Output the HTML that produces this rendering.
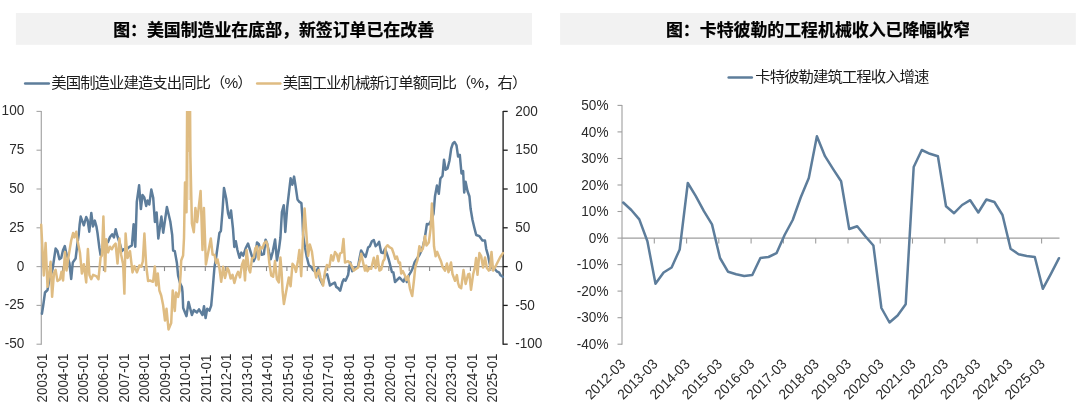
<!DOCTYPE html>
<html lang="zh"><head><meta charset="utf-8"><title>chart</title>
<style>
html,body{margin:0;padding:0;background:#fff;}
body{width:1080px;height:416px;overflow:hidden;position:relative;}
svg{position:absolute;left:0;top:0;display:block;}
.ttl{font-family:"Liberation Sans","Noto Sans CJK SC",sans-serif;font-weight:700;font-size:16.9px;fill:#000;stroke:#000;stroke-width:0.25px;}
.lg{font-family:"Liberation Sans","Noto Sans CJK SC",sans-serif;font-size:14.45px;fill:#1c1c1c;letter-spacing:-0.9px;}
.n,.n2{font-family:"Liberation Sans",sans-serif;font-size:13.6px;fill:#2b2b2b;}
.n2{font-size:13.3px;}
</style></head><body>
<svg width="1080" height="416" viewBox="0 0 1080 416">

<rect x="15.9" y="13" width="516.1" height="31.8" fill="#f2f2f2"/>
<rect x="560.1" y="13" width="515.7" height="31.8" fill="#f2f2f2"/>
<text class="ttl" x="273.6" y="35.5" text-anchor="middle">图：美国制造业在底部，新签订单已在改善</text>
<text class="ttl" x="818" y="35.5" text-anchor="middle">图：卡特彼勒的工程机械收入已降幅收窄</text>
<line x1="25.2" y1="83.5" x2="48.8" y2="83.5" stroke="#5d7d9b" stroke-width="2.6" stroke-linecap="round"/>
<text class="lg" transform="translate(51.3,88.1) scale(1.066,1)">美国制造业建造支出同比（%）</text>
<line x1="257.2" y1="83.5" x2="280.3" y2="83.5" stroke="#dfbc82" stroke-width="2.6" stroke-linecap="round"/>
<text class="lg" transform="translate(282.8,88.1) scale(1.066,1)">美国工业机械新订单额同比（%，右）</text>
<line x1="41.3" y1="266.6" x2="503.1" y2="266.6" stroke="#8a8a8a" stroke-width="1.1"/>
<line x1="62.6" y1="266.6" x2="62.6" y2="271.1" stroke="#8a8a8a" stroke-width="1.1"/>
<line x1="83.0" y1="266.6" x2="83.0" y2="271.1" stroke="#8a8a8a" stroke-width="1.1"/>
<line x1="103.4" y1="266.6" x2="103.4" y2="271.1" stroke="#8a8a8a" stroke-width="1.1"/>
<line x1="123.8" y1="266.6" x2="123.8" y2="271.1" stroke="#8a8a8a" stroke-width="1.1"/>
<line x1="144.2" y1="266.6" x2="144.2" y2="271.1" stroke="#8a8a8a" stroke-width="1.1"/>
<line x1="164.5" y1="266.6" x2="164.5" y2="271.1" stroke="#8a8a8a" stroke-width="1.1"/>
<line x1="184.9" y1="266.6" x2="184.9" y2="271.1" stroke="#8a8a8a" stroke-width="1.1"/>
<line x1="205.3" y1="266.6" x2="205.3" y2="271.1" stroke="#8a8a8a" stroke-width="1.1"/>
<line x1="225.7" y1="266.6" x2="225.7" y2="271.1" stroke="#8a8a8a" stroke-width="1.1"/>
<line x1="246.1" y1="266.6" x2="246.1" y2="271.1" stroke="#8a8a8a" stroke-width="1.1"/>
<line x1="266.5" y1="266.6" x2="266.5" y2="271.1" stroke="#8a8a8a" stroke-width="1.1"/>
<line x1="286.9" y1="266.6" x2="286.9" y2="271.1" stroke="#8a8a8a" stroke-width="1.1"/>
<line x1="307.3" y1="266.6" x2="307.3" y2="271.1" stroke="#8a8a8a" stroke-width="1.1"/>
<line x1="327.7" y1="266.6" x2="327.7" y2="271.1" stroke="#8a8a8a" stroke-width="1.1"/>
<line x1="348.1" y1="266.6" x2="348.1" y2="271.1" stroke="#8a8a8a" stroke-width="1.1"/>
<line x1="368.4" y1="266.6" x2="368.4" y2="271.1" stroke="#8a8a8a" stroke-width="1.1"/>
<line x1="388.8" y1="266.6" x2="388.8" y2="271.1" stroke="#8a8a8a" stroke-width="1.1"/>
<line x1="409.2" y1="266.6" x2="409.2" y2="271.1" stroke="#8a8a8a" stroke-width="1.1"/>
<line x1="429.6" y1="266.6" x2="429.6" y2="271.1" stroke="#8a8a8a" stroke-width="1.1"/>
<line x1="450.0" y1="266.6" x2="450.0" y2="271.1" stroke="#8a8a8a" stroke-width="1.1"/>
<line x1="470.4" y1="266.6" x2="470.4" y2="271.1" stroke="#8a8a8a" stroke-width="1.1"/>
<line x1="490.8" y1="266.6" x2="490.8" y2="271.1" stroke="#8a8a8a" stroke-width="1.1"/>
<line x1="41.3" y1="110.9" x2="41.3" y2="344.7" stroke="#a6a6a6" stroke-width="1.2"/>
<line x1="503.1" y1="110.9" x2="503.1" y2="344.7" stroke="#303030" stroke-width="1.45"/>
<line x1="36.5" y1="111.4" x2="41.3" y2="111.4" stroke="#a6a6a6" stroke-width="1.1"/>
<line x1="503.1" y1="111.4" x2="507.7" y2="111.4" stroke="#1e1e1e" stroke-width="1.3"/>
<text class="n" text-anchor="end" transform="translate(24.3,115.3) scale(1,1.05)">100</text>
<text class="n" transform="translate(515.2,115.6) scale(1,1.05)">200</text>
<line x1="36.5" y1="150.2" x2="41.3" y2="150.2" stroke="#a6a6a6" stroke-width="1.1"/>
<line x1="503.1" y1="150.2" x2="507.7" y2="150.2" stroke="#1e1e1e" stroke-width="1.3"/>
<text class="n" text-anchor="end" transform="translate(24.3,154.1) scale(1,1.05)">75</text>
<text class="n" transform="translate(515.2,154.4) scale(1,1.05)">150</text>
<line x1="36.5" y1="189.0" x2="41.3" y2="189.0" stroke="#a6a6a6" stroke-width="1.1"/>
<line x1="503.1" y1="189.0" x2="507.7" y2="189.0" stroke="#1e1e1e" stroke-width="1.3"/>
<text class="n" text-anchor="end" transform="translate(24.3,192.9) scale(1,1.05)">50</text>
<text class="n" transform="translate(515.2,193.2) scale(1,1.05)">100</text>
<line x1="36.5" y1="227.8" x2="41.3" y2="227.8" stroke="#a6a6a6" stroke-width="1.1"/>
<line x1="503.1" y1="227.8" x2="507.7" y2="227.8" stroke="#1e1e1e" stroke-width="1.3"/>
<text class="n" text-anchor="end" transform="translate(24.3,231.7) scale(1,1.05)">25</text>
<text class="n" transform="translate(515.2,232.0) scale(1,1.05)">50</text>
<line x1="36.5" y1="266.6" x2="41.3" y2="266.6" stroke="#a6a6a6" stroke-width="1.1"/>
<line x1="503.1" y1="266.6" x2="507.7" y2="266.6" stroke="#1e1e1e" stroke-width="1.3"/>
<text class="n" text-anchor="end" transform="translate(24.3,270.5) scale(1,1.05)">0</text>
<text class="n" transform="translate(515.2,270.8) scale(1,1.05)">0</text>
<line x1="36.5" y1="305.4" x2="41.3" y2="305.4" stroke="#a6a6a6" stroke-width="1.1"/>
<line x1="503.1" y1="305.4" x2="507.7" y2="305.4" stroke="#1e1e1e" stroke-width="1.3"/>
<text class="n" text-anchor="end" transform="translate(24.3,309.3) scale(1,1.05)">-25</text>
<text class="n" transform="translate(515.2,309.6) scale(1,1.05)">-50</text>
<line x1="36.5" y1="344.2" x2="41.3" y2="344.2" stroke="#a6a6a6" stroke-width="1.1"/>
<line x1="503.1" y1="344.2" x2="507.7" y2="344.2" stroke="#1e1e1e" stroke-width="1.3"/>
<text class="n" text-anchor="end" transform="translate(24.3,348.1) scale(1,1.05)">-50</text>
<text class="n" transform="translate(515.2,348.4) scale(1,1.05)">-100</text>
<clipPath id="cl"><rect x="40" y="111" width="466" height="236"/></clipPath>
<g clip-path="url(#cl)">
<polyline fill="none" stroke="#5d7d9b" stroke-width="2.5" stroke-linejoin="round" stroke-linecap="round" points="41.9,313.7 43.1,306.3 45.0,292.5 47.5,290.0 48.8,282.5 52.5,269.5 53.1,265.5 55.6,248.6 57.5,251.1 59.4,259.2 61.2,258.0 63.1,249.9 64.8,246.1 66.2,253.0 68.1,258.6 69.4,263.0 71.2,279.0 72.8,262.4 75.6,258.6 77.5,243.0 78.8,234.0 79.6,225.0 80.7,216.6 83.8,225.3 86.2,217.0 87.6,220.0 89.3,231.7 91.3,213.0 93.0,226.5 94.8,220.6 96.4,226.3 97.5,233.0 99.4,248.0 100.6,255.0 104.0,247.0 106.0,244.0 108.1,241.8 110.0,237.0 112.2,234.2 113.9,237.5 115.7,229.2 117.5,236.5 120.0,244.2 121.9,251.1 123.8,249.2 127.5,248.6 129.4,246.8 131.9,245.5 133.6,224.3 135.3,246.8 136.8,202.0 139.1,185.3 140.9,209.1 142.5,194.9 144.3,197.4 146.2,206.0 147.5,200.5 149.3,204.5 151.3,189.6 153.2,197.7 154.9,222.0 156.6,212.4 158.3,238.5 161.4,216.6 163.2,232.7 166.9,207.0 170.3,221.5 172.2,235.0 173.1,250.5 174.8,251.1 176.9,263.0 178.1,275.5 180.0,283.0 181.9,287.0 182.5,292.0 183.2,308.0 186.5,316.2 188.5,301.9 191.9,315.0 193.8,310.0 196.9,312.5 199.0,309.4 202.5,315.0 204.0,306.2 205.6,318.1 207.2,308.8 209.4,310.6 211.2,305.6 212.6,290.0 214.4,268.0 216.2,256.8 218.1,243.0 219.4,233.0 220.9,231.0 222.5,211.0 224.0,187.9 226.2,198.5 228.1,213.5 229.4,217.9 231.0,210.4 233.0,229.0 234.3,246.9 235.8,241.3 237.3,249.5 239.5,257.8 241.3,252.6 243.2,255.6 245.9,247.7 248.0,243.5 250.0,249.8 252.6,258.5 253.6,261.2 255.3,257.4 257.0,242.5 258.9,244.2 260.1,249.0 261.7,254.8 263.9,254.0 265.6,239.7 267.0,243.0 269.0,252.0 270.8,259.3 272.8,251.6 275.1,239.5 276.9,260.5 278.9,249.6 280.4,238.0 281.9,212.2 283.8,205.2 285.3,232.0 287.2,207.5 288.8,193.8 290.6,178.3 292.3,184.8 294.1,176.6 295.6,186.2 297.5,199.4 299.4,201.9 301.4,203.1 302.4,217.0 303.1,235.0 305.0,247.5 306.9,257.5 308.8,265.0 311.2,266.9 313.1,270.0 315.6,271.9 318.1,268.1 320.0,279.4 322.5,284.4 325.0,275.0 327.2,274.4 329.4,283.1 330.0,285.6 332.5,283.8 334.8,282.5 336.2,286.9 338.1,288.1 340.2,290.6 342.5,281.9 343.8,279.4 345.6,280.6 348.1,275.0 349.4,266.2 350.4,262.5 352.2,271.2 354.4,268.8 356.2,267.5 358.1,266.2 359.7,257.5 361.1,250.4 363.1,253.8 365.6,256.9 368.1,247.5 369.8,246.2 371.9,241.2 373.8,240.0 375.6,246.2 377.5,244.4 379.1,241.9 381.2,252.5 383.1,253.1 385.0,248.8 386.9,253.8 388.8,259.7 390.4,266.0 391.9,272.0 393.4,272.5 395.0,282.0 397.5,279.5 399.6,277.5 401.6,279.8 403.4,281.6 405.3,277.5 406.9,282.0 408.8,275.4 410.8,272.2 412.8,268.0 414.5,262.5 416.9,258.8 419.4,255.0 421.2,251.2 423.1,245.6 424.4,240.0 425.6,232.8 426.9,224.0 428.8,224.4 431.0,221.0 433.5,213.8 435.0,196.2 436.9,185.6 438.8,193.8 440.4,178.5 442.5,176.0 444.0,159.8 445.6,169.8 447.5,168.5 449.4,161.0 451.2,148.5 452.9,143.5 454.6,142.0 456.5,145.4 458.1,156.6 459.8,154.8 461.5,173.5 463.1,171.0 464.2,192.5 465.6,181.7 467.5,191.0 469.4,196.2 470.6,208.8 472.5,220.0 474.4,228.0 476.2,235.0 479.4,236.2 482.5,240.6 485.0,240.6 486.2,248.8 488.1,255.6 489.4,262.5 490.6,267.5 492.5,268.1 495.0,269.2 496.9,271.5 499.0,272.3 500.6,275.3 502.8,276.8"/>
<polyline fill="none" stroke="#dfbc82" stroke-width="2.5" stroke-linejoin="round" stroke-linecap="round" points="41.2,224.8 42.5,250.0 43.8,275.5 45.6,243.0 47.5,286.8 50.6,261.8 52.1,296.8 54.0,273.0 55.6,269.9 57.5,281.1 60.0,279.2 61.5,271.8 63.1,280.5 65.0,252.0 66.5,270.5 68.1,259.2 71.2,240.5 73.1,233.0 74.4,237.4 76.2,231.8 77.5,240.5 80.0,253.0 81.9,273.6 83.8,264.2 86.2,282.4 87.9,249.0 89.4,274.9 91.2,279.2 93.1,274.9 96.2,276.1 98.5,279.2 100.6,257.4 101.9,255.5 103.4,216.6 105.1,271.1 106.2,239.2 108.1,252.4 110.0,246.8 111.9,249.2 113.8,245.5 115.6,243.6 117.5,263.6 119.4,238.6 121.2,254.9 123.1,264.2 124.4,293.6 125.6,233.6 127.5,258.0 130.0,251.1 132.5,272.4 134.4,266.1 136.9,272.4 139.4,265.5 141.2,266.8 142.8,261.5 144.4,233.6 146.2,265.5 148.1,281.1 150.0,280.5 153.1,281.8 154.8,266.5 156.2,285.5 157.8,273.6 159.4,290.5 161.2,295.5 163.1,305.0 165.0,320.6 166.5,308.8 168.5,329.4 171.2,323.0 172.7,290.5 174.8,311.0 176.0,292.5 178.1,296.9 179.4,291.0 180.6,274.2 181.2,260.5 183.1,255.5 184.0,238.0 185.0,182.5 186.5,212.2 187.4,60.0 189.7,60.0 190.4,156.0 191.9,223.5 193.8,232.2 195.4,207.9 197.1,222.2 200.6,191.0 202.5,250.0 203.9,207.9 205.9,264.4 208.1,253.0 210.8,238.5 212.6,254.5 214.5,255.0 216.2,263.0 217.6,259.5 219.4,268.0 221.2,281.8 223.1,266.8 225.0,278.0 227.5,268.0 228.8,270.5 230.6,278.6 232.5,274.9 234.4,283.0 236.2,276.1 238.1,271.8 240.0,277.4 241.9,264.9 243.5,260.3 245.0,280.5 246.6,250.0 248.8,269.0 250.2,272.4 252.0,258.4 253.8,257.5 255.3,248.2 256.9,246.3 258.6,259.5 260.4,247.0 262.4,248.3 264.2,243.2 266.2,241.5 267.6,245.5 269.2,262.0 271.2,275.5 273.1,276.8 275.0,261.1 276.9,279.2 278.8,282.4 280.4,257.4 281.6,272.0 282.6,291.2 283.9,304.0 286.2,291.2 288.8,277.5 290.6,286.2 292.5,263.8 294.4,266.2 296.0,271.9 298.1,260.0 299.4,250.0 301.2,276.2 302.8,241.0 304.6,208.5 306.9,241.0 308.1,256.0 309.8,244.4 311.9,251.5 313.8,266.2 316.2,277.5 318.8,270.0 320.6,278.1 323.1,285.6 325.0,271.9 326.9,265.0 329.4,266.9 331.2,255.3 333.1,260.5 335.0,252.0 336.9,254.5 338.5,261.2 340.0,253.5 341.9,252.5 343.5,239.0 345.0,262.5 348.1,261.2 350.6,263.8 353.8,270.6 356.2,268.8 358.1,267.5 360.0,260.0 361.2,253.8 363.1,262.5 365.0,270.6 366.2,265.6 367.5,271.2 369.4,268.1 371.2,268.8 373.8,257.8 375.6,268.1 377.5,256.0 379.4,270.6 381.2,269.4 383.1,261.2 384.6,259.0 385.7,247.5 387.5,245.2 389.4,247.2 391.9,248.5 393.5,253.0 395.3,258.8 396.9,256.5 398.8,263.0 400.0,262.5 401.2,273.5 402.8,271.0 404.7,275.0 406.2,280.0 407.9,276.0 410.0,288.8 412.2,296.0 414.1,279.0 415.3,267.0 417.5,260.0 419.4,246.2 421.0,251.2 422.8,248.8 425.0,236.0 426.5,245.6 428.8,242.5 430.6,228.8 431.9,203.5 433.3,228.0 434.0,246.2 435.6,256.2 437.2,251.9 439.4,257.5 441.1,261.5 442.5,266.6 445.0,270.7 446.9,263.5 448.5,272.3 451.0,262.5 452.5,274.0 455.0,280.8 456.9,275.1 458.1,283.2 459.4,287.0 461.2,288.2 463.5,270.1 465.6,283.9 468.1,274.5 469.4,273.9 471.0,289.8 473.1,274.5 475.0,267.0 476.1,258.1 477.5,274.8 479.4,253.1 481.2,256.2 483.1,267.5 485.0,257.5 486.9,268.1 488.8,270.6 490.0,268.8 491.5,251.9 493.1,270.6 496.2,265.0 500.0,257.5 502.9,253.1"/>
<line x1="188.6" y1="105" x2="188.8" y2="152" stroke="#dfbc82" stroke-width="1.4"/>
<line x1="188.8" y1="152" x2="189.2" y2="200" stroke="#dfbc82" stroke-width="1.6" stroke-opacity="0.55"/>
</g>
<text class="n2" transform="translate(47.1,402.4) rotate(-90) scale(1,1.05)">2003-01</text>
<text class="n2" transform="translate(67.5,402.4) rotate(-90) scale(1,1.05)">2004-01</text>
<text class="n2" transform="translate(88.0,402.4) rotate(-90) scale(1,1.05)">2005-01</text>
<text class="n2" transform="translate(108.4,402.4) rotate(-90) scale(1,1.05)">2006-01</text>
<text class="n2" transform="translate(128.9,402.4) rotate(-90) scale(1,1.05)">2007-01</text>
<text class="n2" transform="translate(149.4,402.4) rotate(-90) scale(1,1.05)">2008-01</text>
<text class="n2" transform="translate(169.8,402.4) rotate(-90) scale(1,1.05)">2009-01</text>
<text class="n2" transform="translate(190.2,402.4) rotate(-90) scale(1,1.05)">2010-01</text>
<text class="n2" transform="translate(210.7,402.4) rotate(-90) scale(1,1.05)">2011-01</text>
<text class="n2" transform="translate(231.1,402.4) rotate(-90) scale(1,1.05)">2012-01</text>
<text class="n2" transform="translate(251.6,402.4) rotate(-90) scale(1,1.05)">2013-01</text>
<text class="n2" transform="translate(272.1,402.4) rotate(-90) scale(1,1.05)">2014-01</text>
<text class="n2" transform="translate(292.5,402.4) rotate(-90) scale(1,1.05)">2015-01</text>
<text class="n2" transform="translate(312.9,402.4) rotate(-90) scale(1,1.05)">2016-01</text>
<text class="n2" transform="translate(333.4,402.4) rotate(-90) scale(1,1.05)">2017-01</text>
<text class="n2" transform="translate(353.9,402.4) rotate(-90) scale(1,1.05)">2018-01</text>
<text class="n2" transform="translate(374.3,402.4) rotate(-90) scale(1,1.05)">2019-01</text>
<text class="n2" transform="translate(394.8,402.4) rotate(-90) scale(1,1.05)">2020-01</text>
<text class="n2" transform="translate(415.2,402.4) rotate(-90) scale(1,1.05)">2021-01</text>
<text class="n2" transform="translate(435.7,402.4) rotate(-90) scale(1,1.05)">2022-01</text>
<text class="n2" transform="translate(456.1,402.4) rotate(-90) scale(1,1.05)">2023-01</text>
<text class="n2" transform="translate(476.6,402.4) rotate(-90) scale(1,1.05)">2024-01</text>
<text class="n2" transform="translate(497.0,402.4) rotate(-90) scale(1,1.05)">2025-01</text>
<line x1="728.7" y1="77.5" x2="751.8" y2="77.5" stroke="#5d7d9b" stroke-width="2.6" stroke-linecap="round"/>
<text class="lg" transform="translate(755.3,82.2) scale(1.066,1)">卡特彼勒建筑工程收入增速</text>
<line x1="622" y1="104.9" x2="622" y2="344.7" stroke="#9e9e9e" stroke-width="1.1"/>
<line x1="622" y1="238.1" x2="1059.5" y2="238.1" stroke="#9e9e9e" stroke-width="1.1"/>
<line x1="617.5" y1="105.4" x2="622.0" y2="105.4" stroke="#9e9e9e" stroke-width="1.1"/>
<text class="n" text-anchor="end" transform="translate(608.5,110.0) scale(1,1.05)">50%</text>
<line x1="617.5" y1="131.9" x2="622.0" y2="131.9" stroke="#9e9e9e" stroke-width="1.1"/>
<text class="n" text-anchor="end" transform="translate(608.5,136.5) scale(1,1.05)">40%</text>
<line x1="617.5" y1="158.5" x2="622.0" y2="158.5" stroke="#9e9e9e" stroke-width="1.1"/>
<text class="n" text-anchor="end" transform="translate(608.5,163.1) scale(1,1.05)">30%</text>
<line x1="617.5" y1="185.0" x2="622.0" y2="185.0" stroke="#9e9e9e" stroke-width="1.1"/>
<text class="n" text-anchor="end" transform="translate(608.5,189.6) scale(1,1.05)">20%</text>
<line x1="617.5" y1="211.5" x2="622.0" y2="211.5" stroke="#9e9e9e" stroke-width="1.1"/>
<text class="n" text-anchor="end" transform="translate(608.5,216.1) scale(1,1.05)">10%</text>
<line x1="617.5" y1="238.1" x2="622.0" y2="238.1" stroke="#9e9e9e" stroke-width="1.1"/>
<text class="n" text-anchor="end" transform="translate(608.5,242.7) scale(1,1.05)">0%</text>
<line x1="617.5" y1="264.6" x2="622.0" y2="264.6" stroke="#9e9e9e" stroke-width="1.1"/>
<text class="n" text-anchor="end" transform="translate(608.5,269.2) scale(1,1.05)">-10%</text>
<line x1="617.5" y1="291.1" x2="622.0" y2="291.1" stroke="#9e9e9e" stroke-width="1.1"/>
<text class="n" text-anchor="end" transform="translate(608.5,295.7) scale(1,1.05)">-20%</text>
<line x1="617.5" y1="317.7" x2="622.0" y2="317.7" stroke="#9e9e9e" stroke-width="1.1"/>
<text class="n" text-anchor="end" transform="translate(608.5,322.3) scale(1,1.05)">-30%</text>
<line x1="617.5" y1="344.2" x2="622.0" y2="344.2" stroke="#9e9e9e" stroke-width="1.1"/>
<text class="n" text-anchor="end" transform="translate(608.5,348.8) scale(1,1.05)">-40%</text>
<line x1="654.3" y1="238.1" x2="654.3" y2="243.6" stroke="#9e9e9e" stroke-width="1.1"/>
<line x1="686.6" y1="238.1" x2="686.6" y2="243.6" stroke="#9e9e9e" stroke-width="1.1"/>
<line x1="718.8" y1="238.1" x2="718.8" y2="243.6" stroke="#9e9e9e" stroke-width="1.1"/>
<line x1="751.1" y1="238.1" x2="751.1" y2="243.6" stroke="#9e9e9e" stroke-width="1.1"/>
<line x1="783.4" y1="238.1" x2="783.4" y2="243.6" stroke="#9e9e9e" stroke-width="1.1"/>
<line x1="815.7" y1="238.1" x2="815.7" y2="243.6" stroke="#9e9e9e" stroke-width="1.1"/>
<line x1="848.0" y1="238.1" x2="848.0" y2="243.6" stroke="#9e9e9e" stroke-width="1.1"/>
<line x1="880.2" y1="238.1" x2="880.2" y2="243.6" stroke="#9e9e9e" stroke-width="1.1"/>
<line x1="912.5" y1="238.1" x2="912.5" y2="243.6" stroke="#9e9e9e" stroke-width="1.1"/>
<line x1="944.8" y1="238.1" x2="944.8" y2="243.6" stroke="#9e9e9e" stroke-width="1.1"/>
<line x1="977.1" y1="238.1" x2="977.1" y2="243.6" stroke="#9e9e9e" stroke-width="1.1"/>
<line x1="1009.4" y1="238.1" x2="1009.4" y2="243.6" stroke="#9e9e9e" stroke-width="1.1"/>
<line x1="1041.6" y1="238.1" x2="1041.6" y2="243.6" stroke="#9e9e9e" stroke-width="1.1"/>
<polyline fill="none" stroke="#5d7d9b" stroke-width="2.5" stroke-linejoin="round" stroke-linecap="round" points="623.2,202.5 631.3,210.0 639.3,219.4 647.4,241.2 655.5,283.8 663.6,272.5 671.6,267.5 679.7,249.5 687.8,183.0 695.8,196.2 703.9,211.2 712.0,224.4 720.0,258.0 728.1,271.8 736.2,274.2 744.2,276.0 752.3,275.0 760.4,258.0 768.5,257.0 776.5,253.2 784.6,235.0 792.7,220.0 800.7,197.5 808.8,178.0 816.9,136.2 825.0,156.2 833.0,168.8 841.1,181.2 849.2,229.0 857.2,226.2 865.3,236.2 873.4,245.5 881.4,308.0 889.5,322.5 897.6,315.5 905.7,304.2 913.7,167.0 921.8,150.0 929.9,153.8 937.9,156.2 946.0,206.2 954.1,213.2 962.1,205.0 970.2,200.2 978.3,212.5 986.4,199.5 994.4,202.0 1002.5,215.0 1010.6,248.8 1018.6,254.2 1026.7,256.0 1034.8,257.0 1042.8,288.8 1050.9,273.8 1059.0,258.2"/>
<text class="n" text-anchor="end" transform="translate(626.3,365.0) rotate(-45) scale(1,1.05)">2012-03</text>
<text class="n" text-anchor="end" transform="translate(658.6,365.0) rotate(-45) scale(1,1.05)">2013-03</text>
<text class="n" text-anchor="end" transform="translate(690.8,365.0) rotate(-45) scale(1,1.05)">2014-03</text>
<text class="n" text-anchor="end" transform="translate(723.1,365.0) rotate(-45) scale(1,1.05)">2015-03</text>
<text class="n" text-anchor="end" transform="translate(755.4,365.0) rotate(-45) scale(1,1.05)">2016-03</text>
<text class="n" text-anchor="end" transform="translate(787.6,365.0) rotate(-45) scale(1,1.05)">2017-03</text>
<text class="n" text-anchor="end" transform="translate(819.9,365.0) rotate(-45) scale(1,1.05)">2018-03</text>
<text class="n" text-anchor="end" transform="translate(852.2,365.0) rotate(-45) scale(1,1.05)">2019-03</text>
<text class="n" text-anchor="end" transform="translate(884.5,365.0) rotate(-45) scale(1,1.05)">2020-03</text>
<text class="n" text-anchor="end" transform="translate(916.7,365.0) rotate(-45) scale(1,1.05)">2021-03</text>
<text class="n" text-anchor="end" transform="translate(949.0,365.0) rotate(-45) scale(1,1.05)">2022-03</text>
<text class="n" text-anchor="end" transform="translate(981.3,365.0) rotate(-45) scale(1,1.05)">2023-03</text>
<text class="n" text-anchor="end" transform="translate(1013.5,365.0) rotate(-45) scale(1,1.05)">2024-03</text>
<text class="n" text-anchor="end" transform="translate(1045.8,365.0) rotate(-45) scale(1,1.05)">2025-03</text>
</svg></body></html>
